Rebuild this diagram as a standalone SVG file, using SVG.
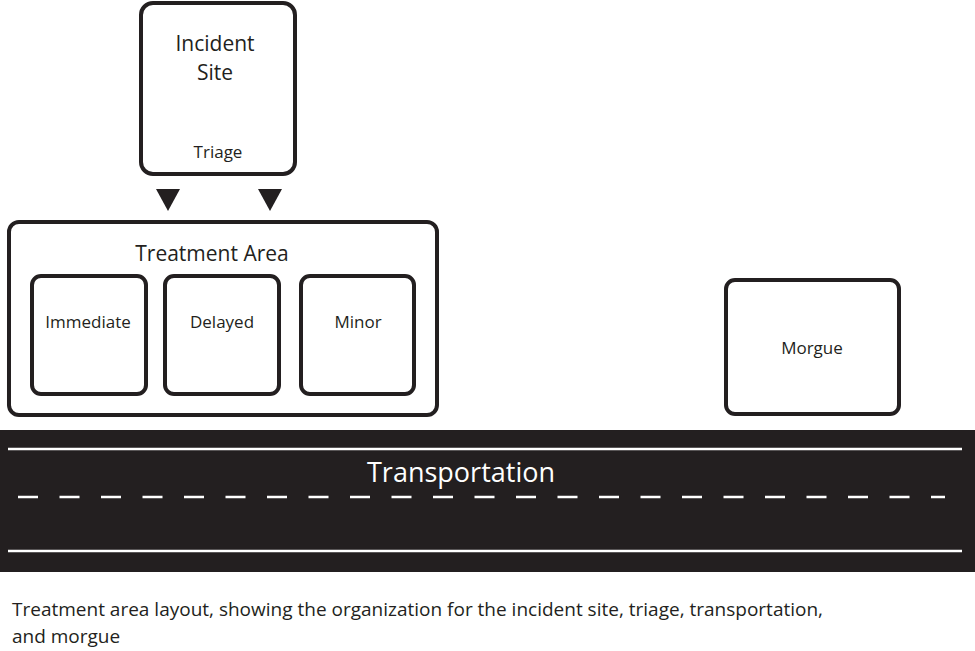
<svg xmlns="http://www.w3.org/2000/svg" width="975" height="651" viewBox="0 0 975 651">
<style>
.box{fill:#fff;stroke:#231f20;stroke-width:4}
.t{font-family:"Myriad Pro","Open Sans","Liberation Sans",sans-serif;fill:#231f20;text-anchor:middle}
.w{stroke:#fff;stroke-width:2.5}
</style>
<rect width="975" height="651" fill="#fff"/>
<g id="incident">
<rect class="box" x="141" y="3" width="154" height="171" rx="12"/>
<text class="t" x="215" y="51" font-size="21">Incident</text>
<text class="t" x="215" y="80" font-size="21">Site</text>
<text class="t" x="218" y="158" font-size="17">Triage</text>
</g>
<g id="connectors" fill="#231f20">
<polygon points="156,189 180,189 168,211"/>
<polygon points="258,189 282,189 270,211"/>
</g>
<g id="treatment">
<rect class="box" x="9" y="222" width="428" height="193" rx="10"/>
<text class="t" x="212" y="261" font-size="21">Treatment Area</text>
</g>
<g id="immediate"><rect class="box" x="32" y="276" width="114" height="118" rx="9"/><text class="t" x="88" y="328" font-size="17">Immediate</text></g>
<g id="delayed"><rect class="box" x="165" y="276" width="114" height="118" rx="9"/><text class="t" x="222" y="328" font-size="17">Delayed</text></g>
<g id="minor"><rect class="box" x="301" y="276" width="113" height="118" rx="9"/><text class="t" x="358" y="328" font-size="17">Minor</text></g>
<g id="morgue"><rect class="box" x="726" y="280" width="173" height="134" rx="9"/><text class="t" x="812" y="354" font-size="17">Morgue</text></g>
<g id="transport">
<rect x="0" y="430" width="975" height="142" fill="#231f20"/>
<line class="w" x1="8" y1="449" x2="962" y2="449"/>
<line class="w" x1="8" y1="551" x2="962" y2="551"/>
<line class="w" x1="18" y1="497" x2="945" y2="497" stroke-dasharray="20,21.5"/>
<text class="t" x="461" y="482" font-size="27" fill="#fff" style="fill:#fff">Transportation</text>
</g>
<g id="caption" font-family="Myriad Pro,Open Sans,Liberation Sans,sans-serif" font-size="19" fill="#231f20">
<text x="12" y="616">Treatment area layout, showing the organization for the incident site, triage, transportation,</text>
<text x="12" y="643">and morgue</text>
</g>
</svg>
